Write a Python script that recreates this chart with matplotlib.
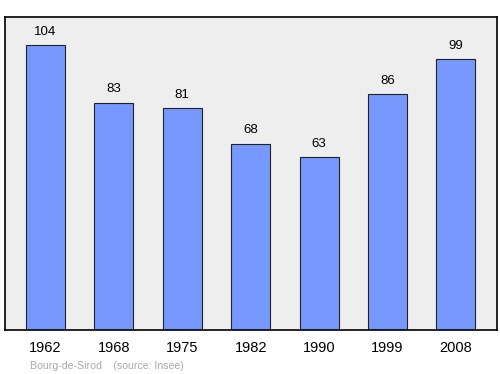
import matplotlib
matplotlib.use("Agg")
import matplotlib.pyplot as plt

years = ["1962", "1968", "1975", "1982", "1990", "1999", "2008"]
population = [104, 83, 81, 68, 63, 86, 99]

plt.rcParams['font.family'] = ['Liberation Sans', 'DejaVu Sans']

fig = plt.figure(figsize=(5, 3.74), dpi=100)
ax = fig.add_axes([0.01, 0.1176, 0.984, 0.837])
ax.set_facecolor("#eeeeee")

x = range(len(years))
ax.bar(x, population, width=0.57, color="#7799ff", edgecolor="#222222", linewidth=0.8)
for i, v in zip(x, population):
    ax.text(i, v + 2.6, str(v), ha="center", va="bottom", fontsize=9.5)

ax.set_xlim(-0.59, 6.6)
ax.set_ylim(0, 114.2)
ax.set_xticks(list(x))
ax.set_xticklabels(years, fontsize=10.5)
ax.tick_params(axis="x", length=0, pad=8)
ax.set_yticks([])
for s in ax.spines.values():
    s.set_linewidth(1.2)

fig.text(0.06, 0.013, "Bourg-de-Sirod    (source: Insee)", fontsize=7.6, color="#aaaaaa")

fig.savefig("out.png", dpi=100)
